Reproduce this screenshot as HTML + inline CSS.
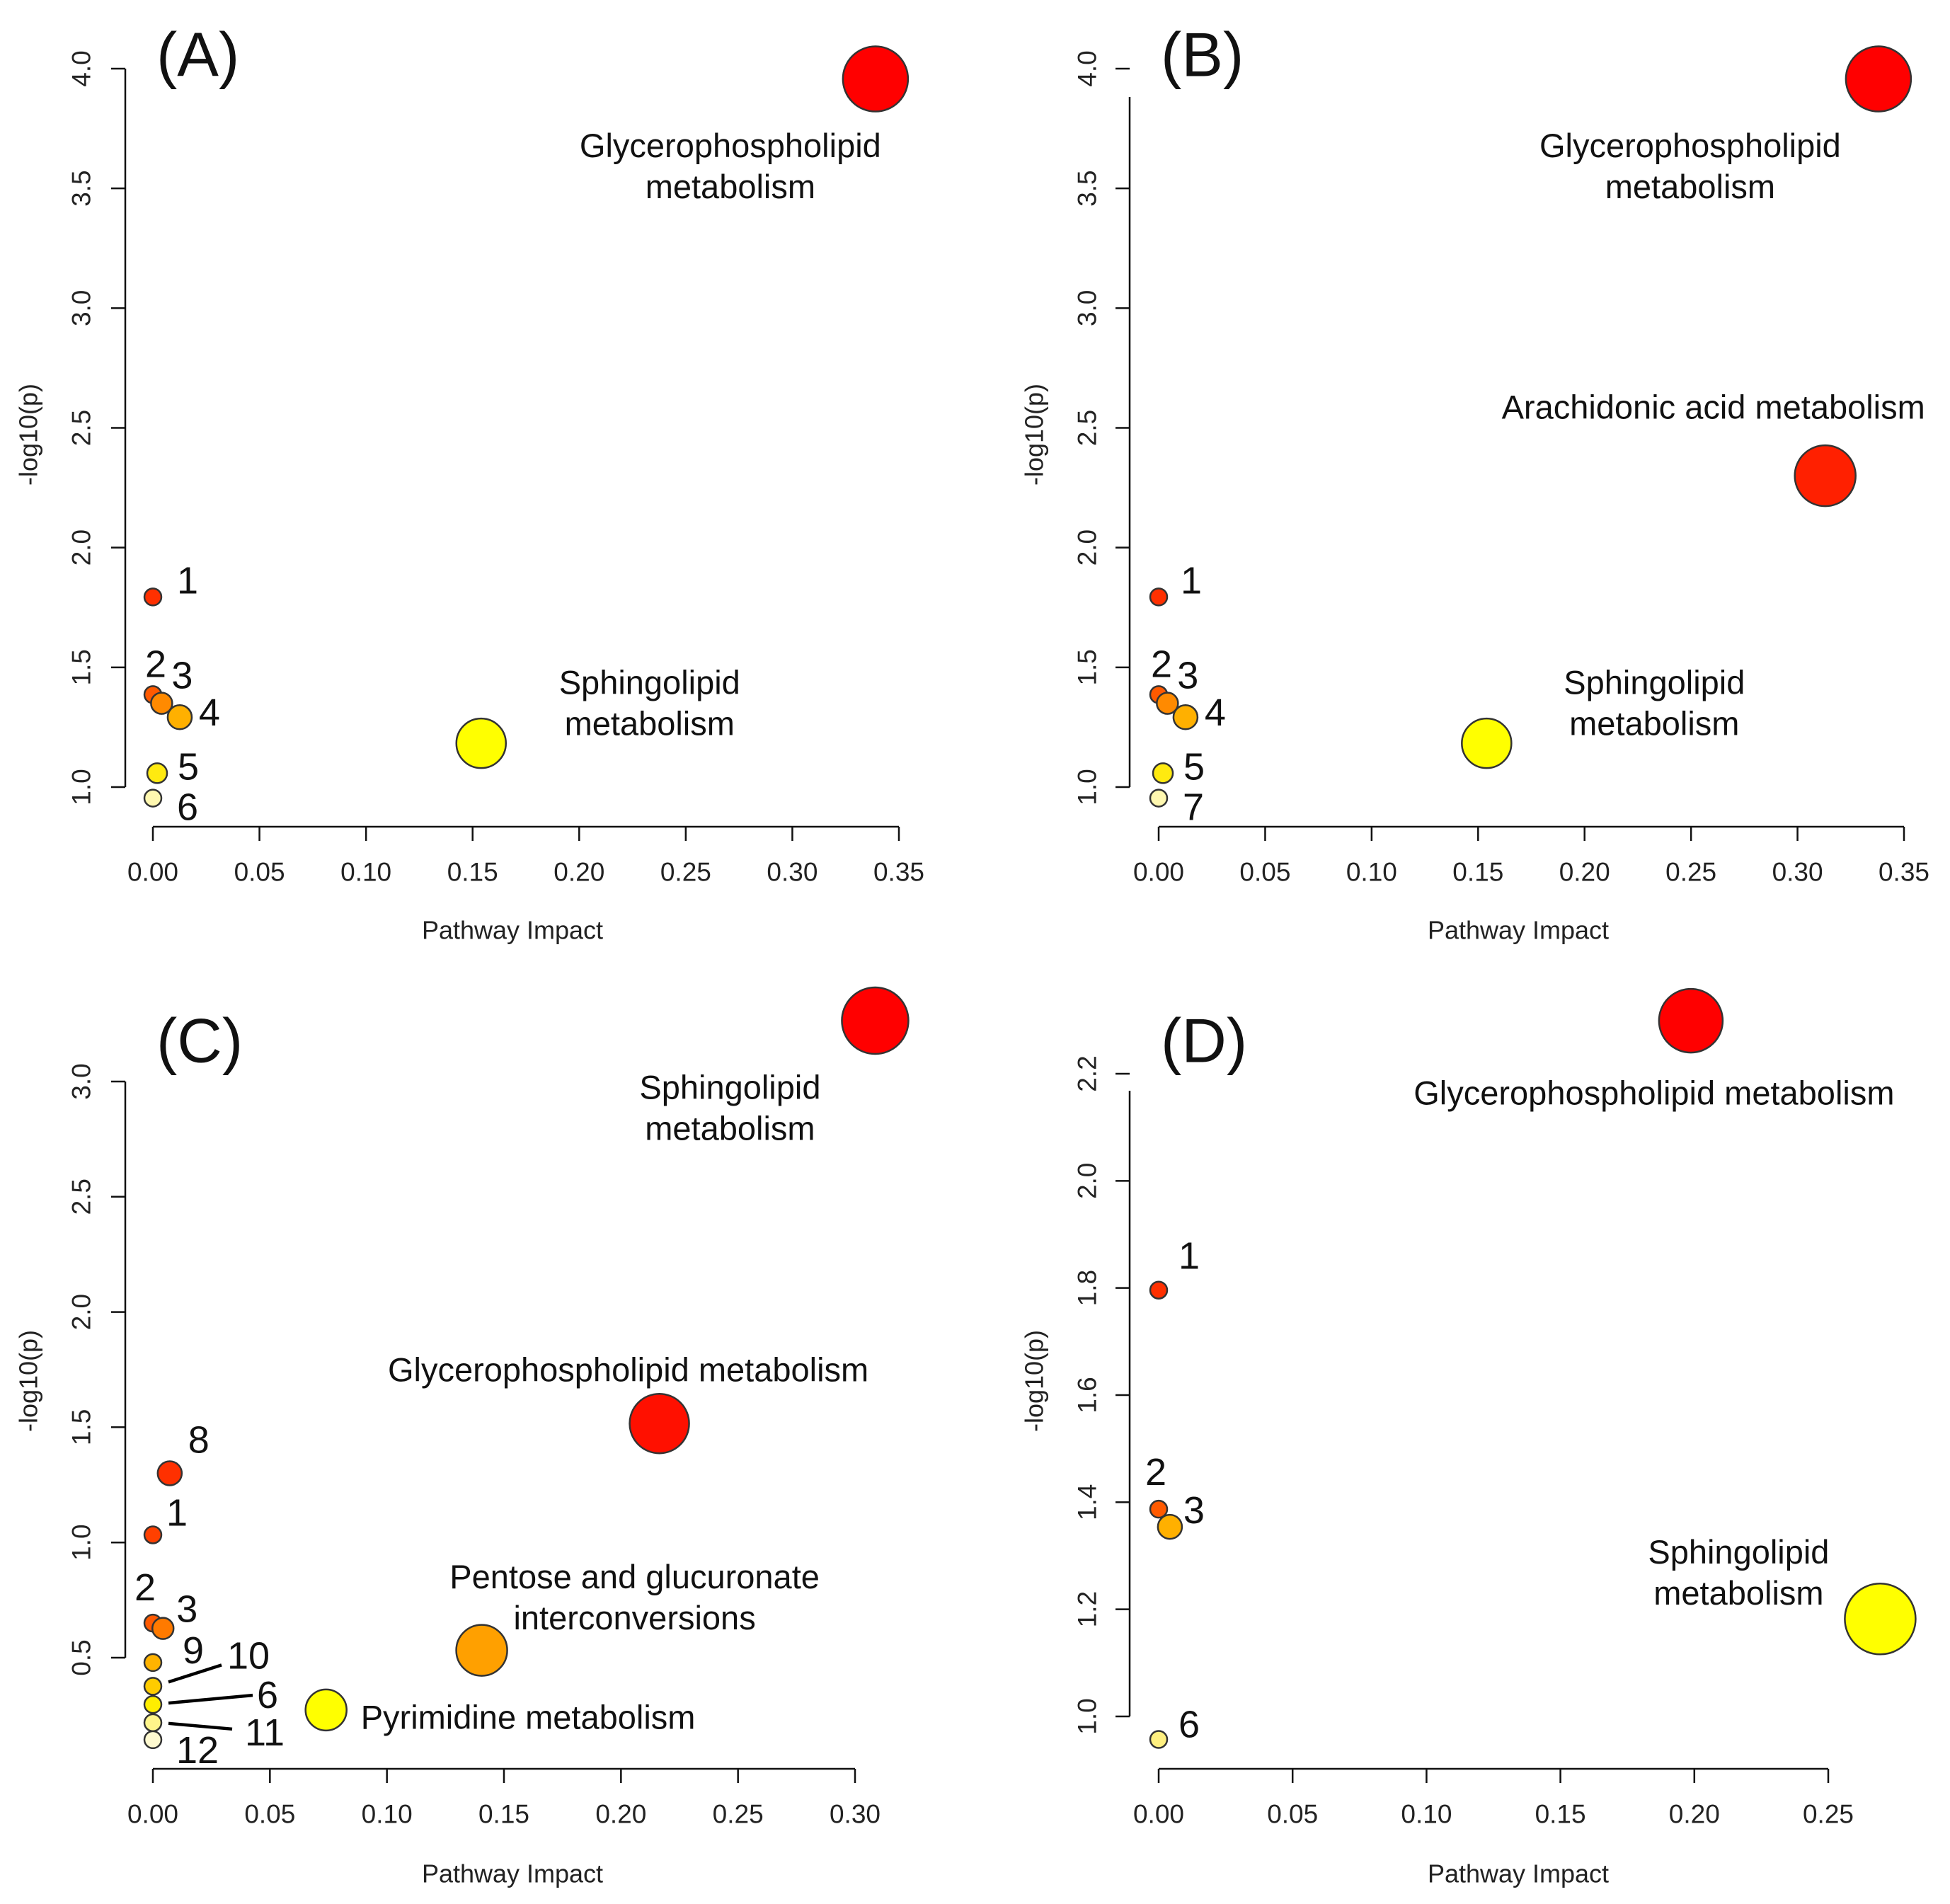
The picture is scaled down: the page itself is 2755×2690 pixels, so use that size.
<!DOCTYPE html>
<html><head><meta charset="utf-8"><style>
html,body{margin:0;padding:0;background:#fff;}
svg{display:block;font-family:"Liberation Sans",Arial,sans-serif;}
</style></head>
<body>
<svg id="chart" width="2755" height="2690" viewBox="0 0 2755 2690" xmlns="http://www.w3.org/2000/svg"></svg>
<script>
// ---- Panel A data ----
const aNames = ["Glycerophospholipid metabolism","Sphingolipid metabolism","1","2","3","4","5","6"];
const aImpact = [0.339,0.154,0,0,0.0041,0.0126,0.002,0];
const aLogP = [3.957,1.183,1.794,1.386,1.35,1.292,1.058,0.954];
const aColors = ["#ff0000","#ffff00","#ff3000","#ff5a00","#ff8a00","#ffb000","#ffea10","#fff8b0"];
// ---- Panel B data ----
const bNames = ["Glycerophospholipid metabolism","Arachidonic acid metabolism","Sphingolipid metabolism","1","2","3","4","5","7"];
const bImpact = [0.338,0.313,0.154,0,0,0.0041,0.0126,0.002,0];
const bLogP = [3.957,2.30,1.183,1.794,1.386,1.35,1.292,1.058,0.954];
const bColors = ["#ff0000","#ff2000","#ffff00","#ff3000","#ff5a00","#ff8a00","#ffb000","#ffea10","#fff8b0"];
// ---- Panel C data ----
const cNames = ["Sphingolipid metabolism","Glycerophospholipid metabolism","Pentose and glucuronate interconversions","Pyrimidine metabolism","8","1","2","3","9","10","6","11","12"];
const cImpact = [0.3086,0.2164,0.1405,0.074,0.0072,0,0,0.0043,0,0,0,0,0];
const cLogP = [3.264,1.516,0.532,0.273,1.300,1.033,0.650,0.627,0.479,0.376,0.297,0.218,0.144];
const cColors = ["#ff0000","#ff1000","#ffa000","#ffff00","#ff3000","#ff4000","#ff5a00","#ff7a00","#ffb300","#ffcc00","#ffee00","#fff58a","#fffad0"];
// ---- Panel D data ----
const dNames = ["Glycerophospholipid metabolism","Sphingolipid metabolism","1","2","3","6"];
const dImpact = [0.1987,0.2694,0,0,0.0042,0];
const dLogP = [2.299,1.182,1.796,1.387,1.354,0.957];
const dColors = ["#ff0000","#ffff00","#ff3000","#ff5a00","#ffb000","#fff080"];
// tick labels
const xTicksAB = ["0.00","0.05","0.10","0.15","0.20","0.25","0.30","0.35"];
const yTicksAB = ["1.0","1.5","2.0","2.5","3.0","3.5","4.0"];
const xTicksC = ["0.00","0.05","0.10","0.15","0.20","0.25","0.30"];
const yTicksC = ["0.5","1.0","1.5","2.0","2.5","3.0"];
const xTicksD = ["0.00","0.05","0.10","0.15","0.20","0.25"];
const yTicksD = ["1.0","1.2","1.4","1.6","1.8","2.0","2.2"];

const NS="http://www.w3.org/2000/svg";
const svg=document.getElementById('chart');
function mk(tag,attrs,parent){const e=document.createElementNS(NS,tag);for(const k in attrs)e.setAttribute(k,attrs[k]);(parent||svg).appendChild(e);return e;}

const panels=[
 {id:'a',letter:'(A)',names:aNames,xs:aImpact,ys:aLogP,cols:aColors,xt:xTicksAB,yt:yTicksAB,
  x0:216,x1:1270,y0:1112,y1:97,axX:177,axY:1168,yLineTop:97,yTitleX:40,yTitleY:614,xTitleX:724,xTitleY:1314,tickLabY:1232,yLabX:115,letX:221,letY:77,
  r:[46,35,12,12,15,17,14,12],
  lab:[[-205,94,'m'],[238,-86,'m'],[49,-23],[4,-43],[29,-39],[42,-6],[44,-9],[49,13]]},
 {id:'b',letter:'(B)',names:bNames,xs:bImpact,ys:bLogP,cols:bColors,xt:xTicksAB,yt:yTicksAB,
  x0:1637,x1:2690,y0:1112,y1:97,axX:1596,axY:1168,yLineTop:137,yTitleX:1461,yTitleY:614,xTitleX:2145,xTitleY:1314,tickLabY:1232,yLabX:1536,letX:1640,letY:77,
  r:[46,43,35,12,12,15,17,14,12],
  lab:[[-266,94,'m'],[-158,-97,'s'],[237,-86,'m'],[46,-23],[4,-43],[29,-39],[42,-6],[44,-9],[49,13]]},
 {id:'c',letter:'(C)',names:cNames,xs:cImpact,ys:cLogP,cols:cColors,xt:xTicksC,yt:yTicksC,
  x0:216,x1:1208,y0:2342,y1:1528,axX:177,axY:2499,yLineTop:1528,yTitleX:40,yTitleY:1951,xTitleX:724,xTitleY:2647,tickLabY:2563,yLabX:115,letX:221,letY:1470,
  r:[47,42,36,29,17,12,12,15,12,12,12,12,12],
  lab:[[-205,94,'m'],[-44,-76,'s'],[216,-104,'m'],[49,10,'start'],[41,-47],[34,-31],[-11,-50],[34,-27],[57,-17],[135,-43,'line',22,-6,97,-30],[162,-13,'line',22,-2,141,-13],[158,14,'line',22,1,112,9],[63,15]]},
 {id:'d',letter:'(D)',names:dNames,xs:dImpact,ys:dLogP,cols:dColors,xt:xTicksD,yt:yTicksD,
  x0:1637,x1:2583,y0:2425,y1:1517,axX:1596,axY:2499,yLineTop:1541,yTitleX:1461,yTitleY:1951,xTitleX:2145,xTitleY:2647,tickLabY:2563,yLabX:1536,letX:1640,letY:1470,
  r:[45,50,12,12,17,12],
  lab:[[-52,102,'s'],[-200,-95,'m'],[43,-48],[-4,-52],[34,-23],[43,-21]]}
];
const twoLine={"Glycerophospholipid metabolism":["Glycerophospholipid","metabolism"],"Sphingolipid metabolism":["Sphingolipid","metabolism"],"Pentose and glucuronate interconversions":["Pentose and glucuronate","interconversions"]};

panels.forEach(p=>{
  const g=mk('g',{});
  
  
  const xmin=parseFloat(p.xt[0]), xmax=parseFloat(p.xt[p.xt.length-1]);
  const ymin=parseFloat(p.yt[0]), ymax=parseFloat(p.yt[p.yt.length-1]);
  const X=v=>p.x0+(v-xmin)/(xmax-xmin)*(p.x1-p.x0);
  const Y=v=>p.y0+(v-ymin)/(ymax-ymin)*(p.y1-p.y0);
  const xa=mk('g',{},g);
  
  
  mk('line',{x1:p.x0,x2:p.x1,y1:p.axY,y2:p.axY,stroke:'#111','stroke-width':2.5},xa);
  p.xt.forEach(t=>{const x=X(parseFloat(t));
    mk('line',{x1:x,x2:x,y1:p.axY,y2:p.axY+20,stroke:'#111','stroke-width':2.5},xa);
    const tx=mk('text',{x:x,y:p.tickLabY,'text-anchor':'middle','dominant-baseline':'central','font-size':37,fill:'#222'},xa);
    
    
    tx.textContent=t;});
  const xtit=mk('text',{x:p.xTitleX,y:p.xTitleY,'text-anchor':'middle','dominant-baseline':'central','font-size':36,fill:'#222'},g);
  
  
  xtit.textContent='Pathway Impact';
  const ya=mk('g',{},g);
  
  
  mk('line',{x1:p.axX,x2:p.axX,y1:p.yLineTop,y2:p.y0,stroke:'#111','stroke-width':2.5},ya);
  p.yt.forEach(t=>{const y=Y(parseFloat(t));
    mk('line',{x1:p.axX-20,x2:p.axX,y1:y,y2:y,stroke:'#111','stroke-width':2.5},ya);
    const tx=mk('text',{x:p.yLabX,y:y,'text-anchor':'middle','dominant-baseline':'central','font-size':37,fill:'#222',transform:`rotate(-90 ${p.yLabX} ${y})`},ya);
    
    
    tx.textContent=t;});
  const ytit=mk('text',{x:p.yTitleX,y:p.yTitleY,'text-anchor':'middle','dominant-baseline':'central','font-size':36,fill:'#222',transform:`rotate(-90 ${p.yTitleX} ${p.yTitleY})`},g);
  
  
  ytit.textContent='-log10(p)';
  const lt=mk('text',{x:p.letX,y:p.letY,'dominant-baseline':'central','font-size':88,fill:'#111'},g);
  
  
  lt.textContent=p.letter;
  p.names.forEach((n,i)=>{
    const cx=X(p.xs[i]), cy=Y(p.ys[i]);
    const c=mk('circle',{cx:cx,cy:cy,r:p.r[i],fill:p.cols[i],stroke:'#333','stroke-width':2.5},g);
    
    
    const L=p.lab[i];
    const lx=cx+L[0], ly=cy+L[1];
    if(twoLine[n] && L[2]==='m'){
      twoLine[n].forEach((s,k)=>{
        const t=mk('text',{x:lx,y:ly+k*58,'text-anchor':'middle','dominant-baseline':'central','font-size':47,fill:'#111'},g);
        
        
        t.textContent=s;});
    } else if(L[2]==='s' || L[2]==='start'){
      const t=mk('text',{x:lx,y:ly,'text-anchor':L[2]==='start'?'start':'middle','dominant-baseline':'central','font-size':47,fill:'#111'},g);
      
      
      t.textContent=n;
    } else {
      if(L[2]==='line'){
        const ln=mk('line',{x1:cx+L[3],y1:cy+L[4],x2:cx+L[5],y2:cy+L[6],stroke:'#000','stroke-width':4.5},g);
        
        
      }
      const t=mk('text',{x:lx,y:ly,'text-anchor':'middle','dominant-baseline':'central','font-size':54,fill:'#111'},g);
      
      
      t.textContent=n;
    }
  });
});
</script>
</body></html>
